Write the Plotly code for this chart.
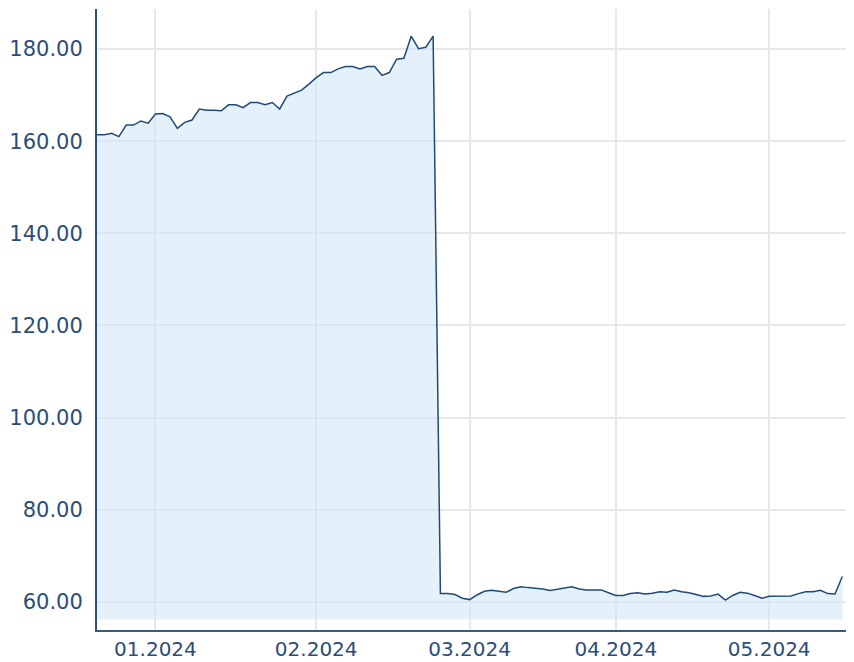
import pandas as pd
import plotly.graph_objects as go

# Exchange holidays (non-trading weekdays) in the shown period
holidays = ["2023-12-25", "2023-12-26", "2024-01-01", "2024-03-29", "2024-04-01", "2024-05-01"]

# Closing prices per month (trading days)
dec_values = [161.4, 161.4, 161.7, 161.0, 163.5, 163.5, 164.4, 163.9]
jan_values = [165.9, 166.0, 165.3, 162.8, 164.1, 164.6, 167.0, 166.7, 166.7, 166.6, 167.9,
              167.9, 167.3, 168.4, 168.4, 167.9, 168.4, 167.0, 169.8, 170.4, 171.1, 172.4]
feb_values = [173.8, 174.9, 174.9, 175.7, 176.2, 176.2, 175.7, 176.2, 176.2, 174.3, 174.9,
              177.8, 178.0, 182.8, 180.1, 180.4, 182.8, 61.8, 61.8, 61.6, 60.8]
mar_values = [60.5, 61.5, 62.3, 62.5, 62.3, 62.1, 62.9, 63.3, 63.1, 63.0, 62.8,
              62.5, 62.8, 63.0, 63.3, 62.8, 62.6, 62.6, 62.6, 62.0]
apr_values = [61.4, 61.4, 61.8, 62.0, 61.7, 61.9, 62.2, 62.1, 62.6, 62.2, 62.0,
              61.6, 61.2, 61.3, 61.7, 60.4, 61.4, 62.1, 61.9, 61.4, 60.8]
may_values = [61.2, 61.2, 61.2, 61.3, 61.8, 62.2, 62.2, 62.5, 61.8, 61.7, 65.5]

tick_vals = ["2024-01-02", "2024-02-01", "2024-03-01", "2024-04-02", "2024-05-02"]
tick_text = ["01.2024", "02.2024", "03.2024", "04.2024", "05.2024"]
y_ticks = [60, 80, 100, 120, 140, 160, 180]

dates = pd.bdate_range("2023-12-18", "2024-05-16", freq="C", holidays=holidays)
values = dec_values + jan_values + feb_values + mar_values + apr_values + may_values

FILL_BASE = 56.2
LINE_COLOR = "#1f4a7a"
TEXT_COLOR = "#2b4d7c"

fig = go.Figure()
fig.add_trace(go.Scatter(x=dates, y=[FILL_BASE] * len(dates), mode="lines",
                         line=dict(width=0), hoverinfo="skip", showlegend=False))
fig.add_trace(go.Scatter(x=dates, y=values, mode="lines", fill="tonexty",
                         fillcolor="rgba(205,227,246,0.55)",
                         line=dict(color=LINE_COLOR, width=1.5), showlegend=False))

# the page adds an 8px body margin, so the figure is sized to fit inside it
fig.update_layout(
    width=846, height=654,
    margin=dict(l=89, r=5, t=1, b=32),
    paper_bgcolor="white", plot_bgcolor="white",
    showlegend=False,
    font=dict(family="DejaVu Sans, Verdana, sans-serif", size=21, color=TEXT_COLOR),
)
fig.update_xaxes(
    range=["2023-12-18", "2024-05-16 22:00"],
    rangebreaks=[dict(bounds=["sat", "mon"]), dict(values=holidays)],
    tickmode="array", tickvals=tick_vals, ticktext=tick_text,
    tickfont=dict(size=20),
    showgrid=True, gridcolor="#e8e8e8", gridwidth=2,
    showline=True, linecolor="#3a5a82", linewidth=2,
    ticks="", ticklabelstandoff=0, automargin=False, zeroline=False,
)
fig.update_yaxes(
    range=[53.9, 188.7],
    tickmode="array", tickvals=y_ticks, tickformat=".2f",
    showgrid=True, gridcolor="#e8e8e8", gridwidth=2,
    showline=True, linecolor="#2a5080", linewidth=2,
    ticks="", ticklabelstandoff=8, automargin=False, zeroline=False,
)

fig.write_html("out.html")
